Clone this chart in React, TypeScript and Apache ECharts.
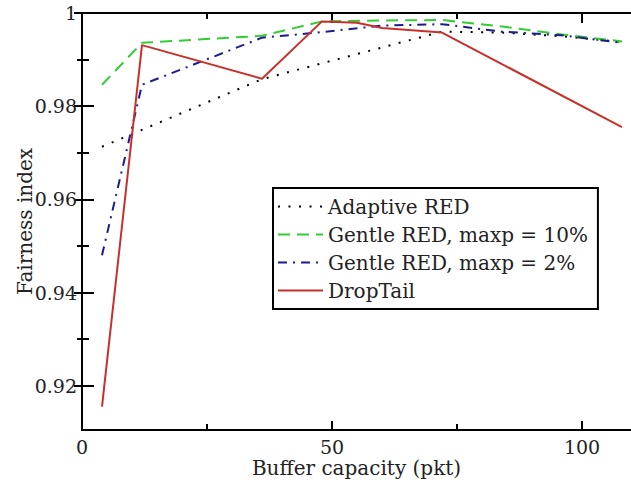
import React, { useEffect, useRef } from "react";
import * as echarts from "echarts";

const adaptiveX = [4, 36, 72, 84, 96, 108];
const adaptiveY = [0.9713, 0.9858, 0.996, 0.9958, 0.995, 0.9938];

const gentle10X = [4, 12, 36, 48, 60, 72, 84, 96, 108];
const gentle10Y = [0.9846, 0.9936, 0.9951, 0.9982, 0.9984, 0.9985, 0.9971, 0.9954, 0.9939];

const gentle2X = [4, 12, 36, 48, 60, 72, 84, 96, 108];
const gentle2Y = [0.948, 0.9846, 0.9947, 0.9959, 0.9973, 0.9976, 0.996, 0.9952, 0.9936];

const dropTailX = [4, 12, 36, 48, 55, 60, 72, 108];
const dropTailY = [0.9155, 0.9931, 0.9859, 0.9982, 0.9979, 0.9968, 0.9958, 0.9755];

const seriesNames = [
  "Adaptive RED",
  "Gentle RED, maxp = 10%",
  "Gentle RED, maxp = 2%",
  "DropTail",
];

const xMajorTicks = [0, 50, 100];
const xMinorTicks = [25, 75];
const yMajorTicks = [0.92, 0.94, 0.96, 0.98, 1];
const yMinorTicks = [0.93, 0.95, 0.97, 0.99];

const FONT = "DejaVu Serif";
const TEXT = "#222";

const zip = (xs: number[], ys: number[]) => xs.map((x, i) => [x, ys[i]]);

export default function App() {
  const ref = useRef<HTMLDivElement>(null);
  useEffect(() => {
    if (!ref.current) return;
    const chart = echarts.init(ref.current, null, { renderer: "svg" });
    const X_MIN = 0;
    const X_MAX = 109.8;
    const Y_MIN = 0.9105;
    const Y_MAX = 1;
    const axisLine = { show: true, lineStyle: { color: "#000", width: 2 } };
    const noLabel = { show: false };
    const xBase = (pos: string) => ({
      type: "value",
      min: X_MIN,
      max: X_MAX,
      position: pos,
      axisLine,
      splitLine: { show: false },
    });
    const yBase = (pos: string) => ({
      type: "value",
      min: Y_MIN,
      max: Y_MAX,
      position: pos,
      axisLine,
      splitLine: { show: false },
    });
    const tick = (values: number[], length: number) => ({
      show: true,
      inside: true,
      length,
      customValues: values,
      lineStyle: { color: "#000", width: 2 },
    });
    chart.setOption({
      animation: false,
      backgroundColor: "#fff",
      grid: { left: 82, right: -2, top: 13, bottom: 57 },
      legend: {
        orient: "vertical",
        left: 273,
        top: 188,
        padding: [8.5, 10, 8.5, 4],
        itemWidth: 45,
        itemHeight: 14,
        itemGap: 8,
        borderColor: "#000",
        borderWidth: 2,
        backgroundColor: "#fff",
        data: seriesNames,
        itemStyle: { opacity: 0 },
        textStyle: { fontFamily: FONT, fontSize: 20, color: TEXT, lineHeight: 20 },
      },
      xAxis: [
        {
          ...xBase("bottom"),
          axisTick: tick(xMajorTicks, 9),
          axisLabel: {
            customValues: xMajorTicks,
            fontFamily: FONT,
            fontSize: 19,
            color: TEXT,
            margin: 7,
          },
          name: "Buffer capacity (pkt)",
          nameLocation: "middle",
          nameGap: 28,
          nameMoveOverlap: false,
          nameTextStyle: { fontFamily: FONT, fontSize: 20, color: TEXT },
        },
        { ...xBase("bottom"), axisTick: tick(xMinorTicks, 6), axisLabel: noLabel },
        { ...xBase("top"), axisTick: tick(xMajorTicks, 10), axisLabel: noLabel },
        { ...xBase("top"), axisTick: tick(xMinorTicks, 6), axisLabel: noLabel },
      ],
      yAxis: [
        {
          ...yBase("left"),
          axisTick: tick(yMajorTicks, 12),
          axisLabel: {
            customValues: yMajorTicks,
            fontFamily: FONT,
            fontSize: 19,
            color: TEXT,
            margin: 5,
            formatter: (v: number) => (Math.abs(v - 1) < 1e-9 ? "1" : v.toFixed(2)),
          },
          name: "Fairness index",
          nameLocation: "middle",
          nameGap: 47,
          nameMoveOverlap: false,
          nameTextStyle: { fontFamily: FONT, fontSize: 20, color: TEXT },
        },
        { ...yBase("left"), axisTick: tick(yMinorTicks, 7), axisLabel: noLabel },
        { ...yBase("right"), axisTick: tick(yMajorTicks, 8), axisLabel: noLabel },
        { ...yBase("right"), axisTick: tick(yMinorTicks, 5), axisLabel: noLabel },
      ],
      series: [
        {
          name: seriesNames[0],
          type: "line",
          data: zip(adaptiveX, adaptiveY),
          symbol: "none",
          lineStyle: { color: "#000", width: 2, type: [2, 8.5] },
          itemStyle: { color: "#000" },
        },
        {
          name: seriesNames[1],
          type: "line",
          data: zip(gentle10X, gentle10Y),
          symbol: "none",
          lineStyle: { color: "#33cc33", width: 2, type: [12, 7] },
          itemStyle: { color: "#33cc33" },
        },
        {
          name: seriesNames[2],
          type: "line",
          data: zip(gentle2X, gentle2Y),
          symbol: "none",
          lineStyle: { color: "#1c1c8c", width: 2, type: [9, 6, 2, 6] },
          itemStyle: { color: "#1c1c8c" },
        },
        {
          name: seriesNames[3],
          type: "line",
          data: zip(dropTailX, dropTailY),
          symbol: "none",
          lineStyle: { color: "#c8302c", width: 2 },
          itemStyle: { color: "#c8302c" },
        },
      ],
    });
    return () => chart.dispose();
  }, []);
  return (
    <div
      ref={ref}
      style={{ position: "fixed", left: 0, top: 0, width: 631, height: 487 }}
    />
  );
}
